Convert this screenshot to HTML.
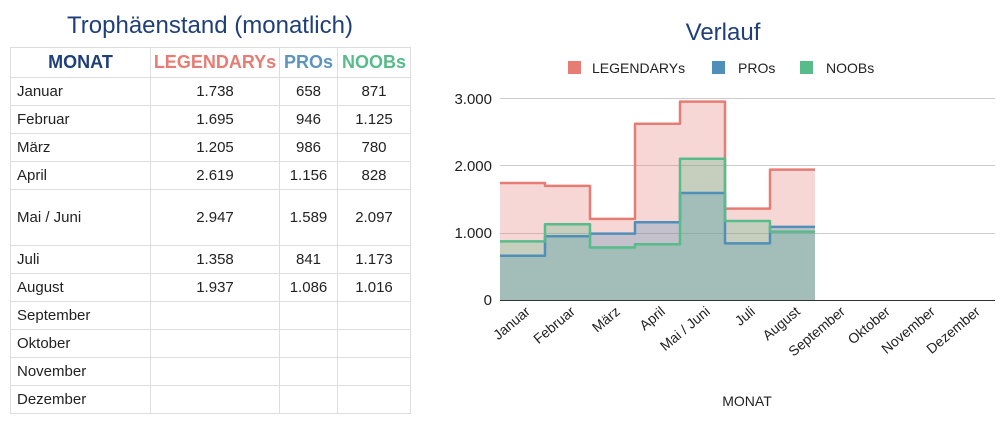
<!DOCTYPE html>
<html><head><meta charset="utf-8"><style>
body{margin:0;width:1000px;height:427px;background:#fff;font-family:"Liberation Sans",Arial,sans-serif;overflow:hidden;position:relative}
.t{position:absolute;left:10px;top:47px;border-collapse:collapse;font-size:15px;color:#222}
.t td{border:1px solid #ddd;height:28px;padding:0 6px;box-sizing:border-box}
.t td.n{text-align:center}
.h td{height:30px;font-weight:bold;font-size:18px;text-align:center}
</style></head><body>
<div style="position:absolute;left:0;width:420px;top:12px;text-align:center;font-size:24px;color:#1f3f7a">Trophäenstand (monatlich)</div>
<table class="t">
<colgroup><col style="width:140px"><col style="width:129px"><col style="width:58px"><col style="width:73px"></colgroup>
<tr class="h"><td style="color:#1f3f7a">MONAT</td><td style="color:#e67c73;padding:0">LEGENDARYs</td><td style="color:#5b95bf;padding:0">PROs</td><td style="color:#57bb8a;padding:0">NOOBs</td></tr>
<tr><td>Januar</td><td class="n">1.738</td><td class="n">658</td><td class="n">871</td></tr>
<tr><td>Februar</td><td class="n">1.695</td><td class="n">946</td><td class="n">1.125</td></tr>
<tr><td>März</td><td class="n">1.205</td><td class="n">986</td><td class="n">780</td></tr>
<tr><td>April</td><td class="n">2.619</td><td class="n">1.156</td><td class="n">828</td></tr>
<tr><td style="height:56px">Mai / Juni</td><td class="n">2.947</td><td class="n">1.589</td><td class="n">2.097</td></tr>
<tr><td>Juli</td><td class="n">1.358</td><td class="n">841</td><td class="n">1.173</td></tr>
<tr><td>August</td><td class="n">1.937</td><td class="n">1.086</td><td class="n">1.016</td></tr>
<tr><td>September</td><td></td><td></td><td></td></tr>
<tr><td>Oktober</td><td></td><td></td><td></td></tr>
<tr><td>November</td><td></td><td></td><td></td></tr>
<tr><td>Dezember</td><td></td><td></td><td></td></tr>
</table>
<svg width="1000" height="427" style="position:absolute;left:0;top:0" font-family="Liberation Sans,Arial,sans-serif">
<text x="723" y="40" font-size="24" fill="#1f3f7a" text-anchor="middle">Verlauf</text>
<rect x="568" y="61" width="13" height="13" fill="#e67c73"/><text x="592" y="73" font-size="14" fill="#222">LEGENDARYs</text>
<rect x="712" y="61" width="13" height="13" fill="#4f8fba"/><text x="738" y="73" font-size="14" fill="#222">PROs</text>
<rect x="800" y="61" width="13" height="13" fill="#57bb8a"/><text x="826" y="73" font-size="14" fill="#222">NOOBs</text>
<g stroke="#ccc" stroke-width="1"><line x1="500" y1="98.5" x2="995" y2="98.5"/><line x1="500" y1="165.5" x2="995" y2="165.5"/><line x1="500" y1="233.5" x2="995" y2="233.5"/></g>
<g font-size="15" fill="#222" text-anchor="end"><text x="492" y="104">3.000</text><text x="492" y="171">2.000</text><text x="492" y="238">1.000</text><text x="492" y="305">0</text></g>
<path d="M500,300V183H545V185.9H590V218.9H635V123.7H680V101.6H725V208.6H770V169.6H815V300Z" fill="#e67c73" fill-opacity="0.3"/>
<path d="M500,300V255.7H545V236.3H590V233.6H635V222.2H680V193H725V243.4H770V226.9H815V300Z" fill="#4f8fba" fill-opacity="0.3"/>
<path d="M500,300V241.4H545V224.3H590V247.5H635V244.3H680V158.8H725V221H770V231.6H815V300Z" fill="#57bb8a" fill-opacity="0.3"/>
<g fill="none" stroke-width="2.5" stroke-linejoin="round">
<path d="M500,183H545V185.9H590V218.9H635V123.7H680V101.6H725V208.6H770V169.6H815" stroke="#e67c73"/>
<path d="M500,255.7H545V236.3H590V233.6H635V222.2H680V193H725V243.4H770V226.9H815" stroke="#4f8fba"/>
<path d="M500,241.4H545V224.3H590V247.5H635V244.3H680V158.8H725V221H770V231.6H815" stroke="#57bb8a"/>
</g>
<line x1="500" y1="300.5" x2="995" y2="300.5" stroke="#333"/>
<g font-size="14" fill="#222" text-anchor="end">
<text transform="translate(531,313) rotate(-40)">Januar</text>
<text transform="translate(576,313) rotate(-40)">Februar</text>
<text transform="translate(621,313) rotate(-40)">März</text>
<text transform="translate(666,313) rotate(-40)">April</text>
<text transform="translate(711,313) rotate(-40)">Mai / Juni</text>
<text transform="translate(756,313) rotate(-40)">Juli</text>
<text transform="translate(801,313) rotate(-40)">August</text>
<text transform="translate(846,313) rotate(-40)">September</text>
<text transform="translate(891,313) rotate(-40)">Oktober</text>
<text transform="translate(936,313) rotate(-40)">November</text>
<text transform="translate(981,313) rotate(-40)">Dezember</text>
</g>
<text x="747" y="406" font-size="14" fill="#222" text-anchor="middle">MONAT</text>
</svg>
</body></html>
